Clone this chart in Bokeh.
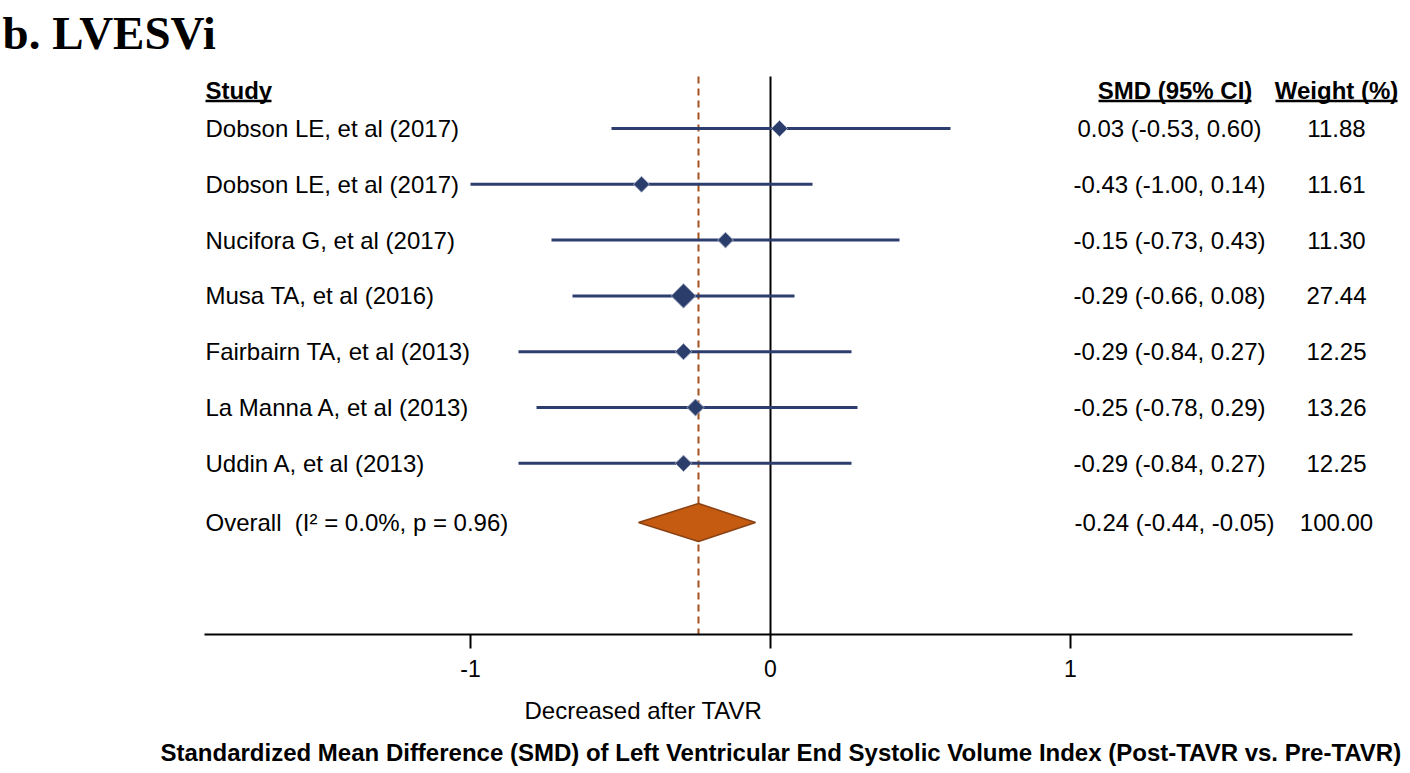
import numpy as np
from bokeh.plotting import figure
from bokeh.models import Range1d, FixedTicker, ColumnDataSource
from bokeh.core.properties import value
from bokeh.embed import file_html
from bokeh.resources import INLINE

# ---------------- data ----------------
panel_title = "b. LVESVi"
studies = ["Dobson LE, et al (2017)", "Dobson LE, et al (2017)", "Nucifora G, et al (2017)",
           "Musa TA, et al (2016)", "Fairbairn TA, et al (2013)", "La Manna A, et al (2013)",
           "Uddin A, et al (2013)"]
smd = [0.03, -0.43, -0.15, -0.29, -0.29, -0.25, -0.29]
ci_low = [-0.53, -1.00, -0.73, -0.66, -0.84, -0.78, -0.84]
ci_high = [0.60, 0.14, 0.43, 0.08, 0.27, 0.29, 0.27]
weights = [11.88, 11.61, 11.30, 27.44, 12.25, 13.26, 12.25]
overall_label = "Overall\u00a0\u00a0(I\u00b2 = 0.0%, p = 0.96)"
overall_smd = -0.24
overall_low = -0.44
overall_high = -0.05
overall_weight = 100.00
x_ticks = [-1, 0, 1]
headers = ["Study", "SMD (95% CI)", "Weight (%)"]
direction_label = "Decreased after TAVR"
x_title = "Standardized Mean Difference (SMD) of Left Ventricular End Systolic Volume Index (Post-TAVR vs. Pre-TAVR)"

# ---------------- layout helpers (reference pixel -> data) ----------------
def xd(ref):
    return (ref - 770.0) / 300.0

def yd(ref):
    return (ref - 128.0) / 55.8

FONT = value("Liberation Sans")
NAVY = "#2d3e6e"
FS = "24px"

p = figure(width=1410, height=773,
           x_range=Range1d(xd(0), xd(1410)), y_range=Range1d(yd(773), yd(0)),
           output_backend="svg", toolbar_location=None, tools="",
           min_border_left=0, min_border_right=0, min_border_top=0, min_border_bottom=0,
           y_axis_location=None)
p.xgrid.visible = False
p.ygrid.visible = False
p.outline_line_color = None
p.background_fill_color = "white"
p.border_fill_color = "white"

rows = list(range(len(studies)))
row_overall = 7.06

# zero line and overall dashed line
p.segment(x0=[0], y0=[yd(76)], x1=[0], y1=[yd(634)], line_color="black", line_width=2)
p.segment(x0=[overall_smd], y0=[yd(76)], x1=[overall_smd], y1=[yd(634)],
          line_color="#a4511c", line_width=2, line_dash="7 5")

src = ColumnDataSource(dict(
    y=rows, smd=smd, lo=ci_low, hi=ci_high, w=weights,
    size=[3.3 * np.sqrt(w) for w in weights],
    name=studies,
    ci_txt=[f"{s:.2f} ({l:.2f}, {h:.2f})" for s, l, h in zip(smd, ci_low, ci_high)],
    w_txt=[f"{w:.2f}" for w in weights],
))
# CI lines and study markers
p.segment(x0="lo", y0="y", x1="hi", y1="y", source=src, line_color=NAVY, line_width=3)
p.scatter(x="smd", y="y", size="size", marker="square", angle=np.pi / 4, source=src,
          fill_color="#2b3d6b", line_color="#9aa3c0", line_width=1)

# overall diamond
h = 19 / 55.8
p.patch(x=[overall_low, overall_smd, overall_high, overall_smd],
        y=[row_overall, row_overall - h, row_overall, row_overall + h],
        fill_color="#c55a11", line_color="#8a4214", line_width=1.5)

# texts
p.text(x=xd(205), y="y", text="name", source=src, text_font=FONT, text_font_size=FS,
       text_baseline="middle", text_align="left", text_color="black")
p.text(x=xd(1169), y="y", text="ci_txt", source=src, text_font=FONT, text_font_size=FS,
       text_baseline="middle", text_align="center", text_color="black")
p.text(x=xd(1336), y="y", text="w_txt", source=src, text_font=FONT, text_font_size=FS,
       text_baseline="middle", text_align="center", text_color="black")

p.text(x=[xd(205)], y=[row_overall], text=[overall_label], text_font=FONT, text_font_size=FS,
       text_baseline="middle", text_align="left", text_color="black")
p.text(x=[xd(1174)], y=[row_overall],
       text=[f"{overall_smd:.2f} ({overall_low:.2f}, {overall_high:.2f})"],
       text_font=FONT, text_font_size=FS, text_baseline="middle", text_align="center")
p.text(x=[xd(1336)], y=[row_overall], text=[f"{overall_weight:.2f}"], text_font=FONT,
       text_font_size=FS, text_baseline="middle", text_align="center")

# headers with underlines
p.text(x=[xd(205)], y=[yd(90)], text=[headers[0]], text_font=FONT, text_font_size=FS,
       text_font_style="bold", text_baseline="middle", text_align="left")
p.text(x=[xd(1174.5), xd(1336)], y=[yd(90)] * 2, text=headers[1:], text_font=FONT,
       text_font_size=FS, text_font_style="bold", text_baseline="middle", text_align="center")
p.segment(x0=[xd(205), xd(1098), xd(1275)], y0=[yd(100.5)] * 3,
          x1=[xd(271), xd(1251), xd(1397)], y1=[yd(100.5)] * 3,
          line_color="black", line_width=2.5)

# panel title
p.text(x=[xd(2)], y=[yd(32)], text=[panel_title], text_font=value("Liberation Serif"),
       text_font_size="47px", text_font_style="bold", text_baseline="alphabetic",
       text_align="left", text_color="black")

# below-axis texts
p.text(x=[xd(524)], y=[yd(710)], text=[direction_label], text_font=FONT, text_font_size=FS,
       text_baseline="middle", text_align="left", text_color="black")
p.text(x=[xd(160)], y=[yd(752)], text=[x_title], text_font=FONT, text_font_size=FS,
       text_font_style="bold", text_baseline="middle", text_align="left", text_color="black")

# axis, fixed at the bottom of the study area
ax = p.xaxis[0]
ax.fixed_location = yd(634)
ax.ticker = FixedTicker(ticks=x_ticks)
ax.bounds = (xd(204), xd(1352))
ax.axis_line_width = 2
ax.axis_line_color = "black"
ax.major_tick_line_width = 2
ax.major_tick_out = 14
ax.major_tick_in = 0
ax.minor_tick_line_color = None
ax.major_label_text_font = "Liberation Sans"
ax.major_label_text_font_size = "23px"
ax.major_label_text_color = "black"
ax.major_label_standoff = 11
ax.major_label_overrides = {-1: "-1", 0: "0", 1: "1"}

open("out.html", "w").write(file_html(p, INLINE))
